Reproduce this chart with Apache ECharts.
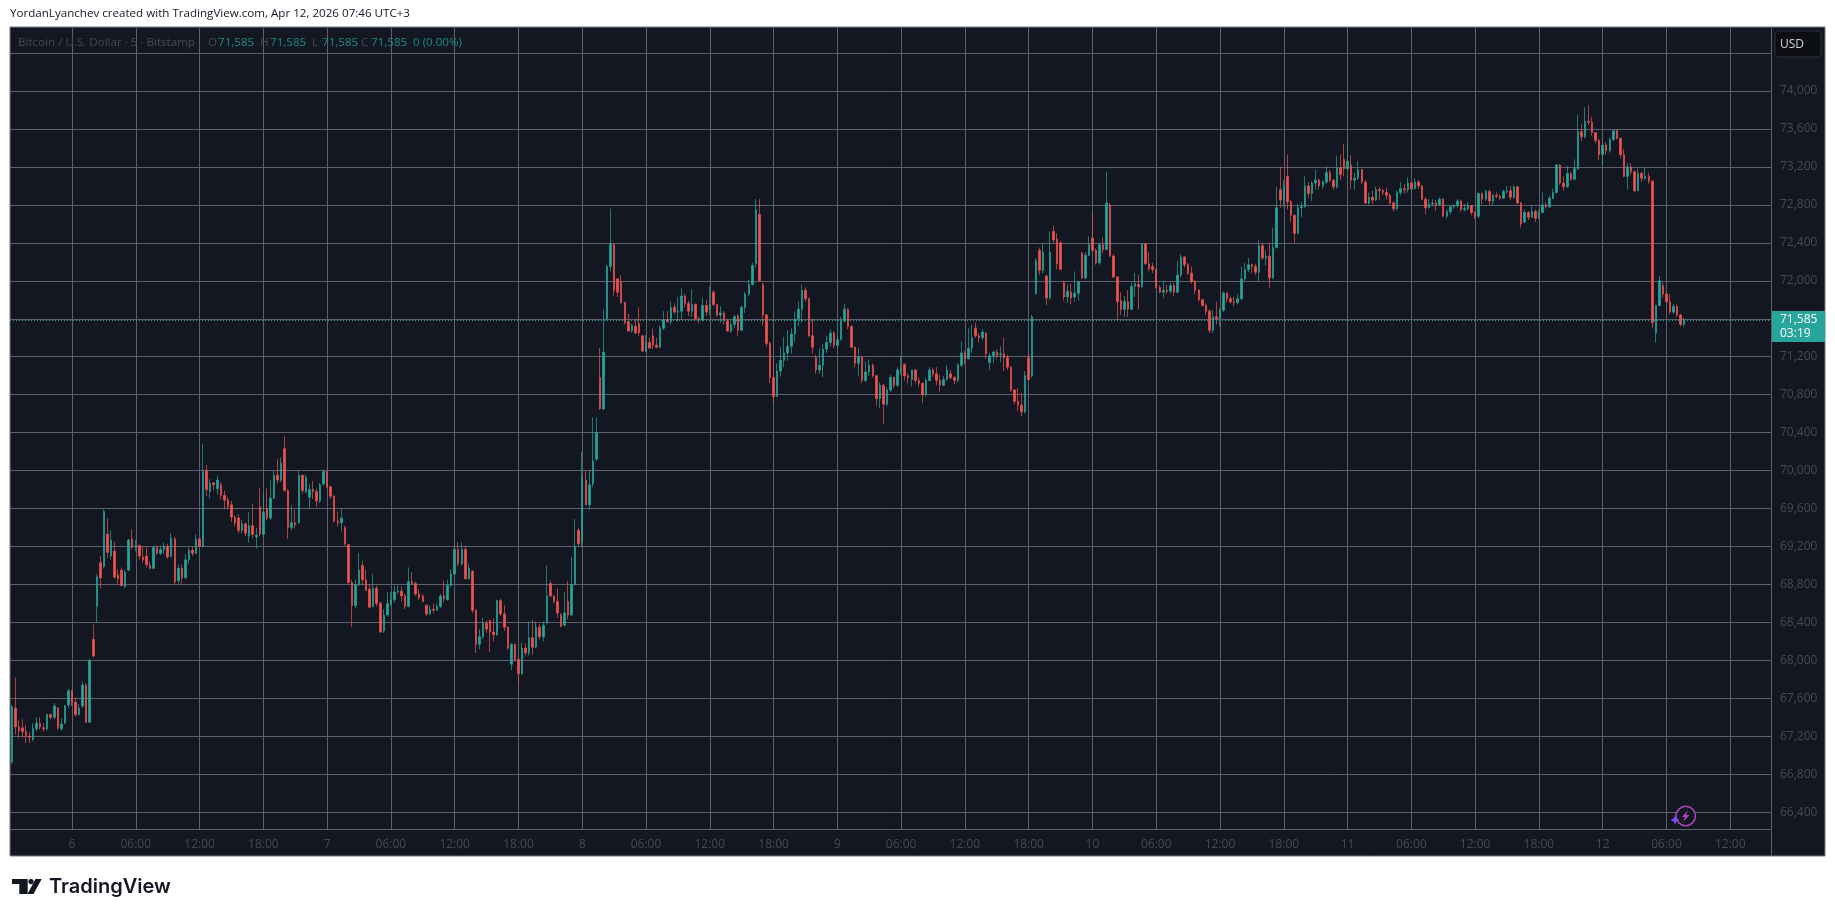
<!DOCTYPE html>
<html><head><meta charset="utf-8">
<style>html,body{margin:0;padding:0;background:#fff}#c{width:1835px;height:917px}</style>
<script src="https://cdn.jsdelivr.net/npm/echarts@6/dist/echarts.min.js"></script>
</head><body><div id="c"></div>
<script>
// 20-minute candles: [open, close, low, high]
const barsApr05=[[66930,67510,66910,67530],[67500,67300,67220,67820],[67300,67260,67180,67370],[67290,67250,67190,67380],[67250,67210,67130,67320],[67200,67190,67130,67240],[67170,67280,67150,67340],[67280,67340,67250,67400],[67340,67300,67270,67400],[67290,67280,67250,67340],[67280,67430,67260,67440],[67430,67400,67380,67440],[67400,67520,67380,67550],[67500,67290,67270,67510],[67280,67330,67260,67390],[67340,67520,67330,67530],[67530,67680,67500,67700]];
const barsApr06=[[67680,67560,67520,67690],[67560,67430,67410,67610],[67430,67500,67420,67540],[67520,67740,67500,67780],[67740,67350,67340,67760],[67350,68000,67340,68020],[68220,68050,68030,68380],[68570,68880,68400,68910],[69030,68870,68760,69100],[68990,69570,68970,69590],[69330,69140,69080,69500],[69100,69270,69060,69370],[69150,68880,68860,69250],[68900,68860,68810,68960],[68950,68790,68780,68980],[68780,68930,68760,68950],[68950,69270,68940,69280],[69280,69190,69170,69380],[69190,69210,69150,69270],[69210,69100,69060,69220],[69090,69060,69030,69200],[69100,69010,68980,69190],[69000,68970,68960,69040],[68970,69190,68960,69200],[69190,69130,69110,69200],[69130,69170,69110,69210],[69170,69200,69120,69240],[69200,69090,69070,69230],[69100,69290,69080,69340],[69280,68830,68800,69300],[68840,68970,68810,69010],[68970,68870,68810,69010],[68870,69060,68860,69120],[69060,69160,69020,69190],[69160,69130,69100,69200],[69130,69280,69120,69330],[69280,69200,69190,69290],[69200,69990,69190,70280],[70000,69800,69730,70060],[69780,69870,69710,69910],[69870,69850,69790,69880],[69810,69900,69750,69950],[69850,69740,69700,69880],[69740,69690,69590,69790],[69690,69620,69590,69720],[69640,69510,69460,69680],[69510,69450,69410,69530],[69500,69370,69340,69540],[69370,69440,69340,69480],[69440,69340,69310,69450],[69310,69420,69240,69560],[69420,69330,69290,69650],[69300,69320,69180,69400],[69620,69330,69310,69820],[69330,69560,69300,69760],[69600,69500,69480,69810],[69500,69710,69480,69900],[69710,69950,69700,70000],[69950,69900,69860,70120],[69900,70080,69880,70140],[70230,69790,69780,70360],[69790,69400,69280,69800],[69400,69450,69370,69640],[69450,69430,69390,69590],[69450,69950,69440,70000],[69950,69790,69760,69960],[69780,69930,69760,69960],[69720,69800,69600,69860],[69800,69780,69700,69890],[69780,69680,69620,69810],[69680,69850,69660,69870],[69860,69990,69840,70010]];
const barsApr07=[[69990,69830,69820,70000],[69830,69730,69700,69840],[69730,69470,69450,69740],[69470,69450,69410,69570],[69450,69500,69360,69600],[69400,69230,69210,69420],[69220,68820,68810,69230],[68820,68580,68350,68850],[68580,68800,68550,68850],[68800,68950,68780,69130],[69000,68850,68790,69050],[68850,68740,68730,68960],[68750,68560,68560,68800],[68570,68760,68560,68910],[68760,68600,68570,68790],[68600,68300,68290,68620],[68310,68480,68290,68540],[68480,68600,68460,68720],[68600,68640,68570,68720],[68640,68720,68610,68790],[68720,68730,68700,68790],[68730,68680,68620,68780],[68680,68570,68540,68700],[68570,68830,68560,68980],[68830,68810,68800,68930],[68810,68700,68680,68830],[68700,68660,68640,68750],[68680,68620,68610,68700],[68580,68490,68470,68590],[68490,68540,68480,68580],[68540,68530,68500,68600],[68530,68570,68520,68600],[68570,68680,68550,68700],[68680,68650,68610,68840],[68640,68790,68630,68850],[68790,68910,68770,68960],[68910,69170,68900,69220],[69170,69020,68990,69250],[69020,69170,69000,69240],[69170,68860,68860,69210],[68860,68970,68850,69020],[68940,68530,68500,68950],[68530,68170,68080,68540],[68170,68250,68120,68330],[68250,68390,68230,68450],[68390,68330,68290,68420],[68420,68300,68090,68430],[68300,68270,68200,68440],[68270,68630,68260,68640],[68630,68490,68470,68650],[68490,68350,68310,68580],[68350,68130,68110,68360],[67960,68170,67900,68180],[68170,68010,67990,68180],[68010,67860,67730,68030],[67860,68130,67850,68190],[68130,68080,68050,68180],[68080,68240,68050,68410],[68240,68140,68060,68430],[68140,68350,68130,68410],[68350,68250,68220,68380],[68250,68370,68200,68410],[68400,68680,68380,69000],[68810,68680,68670,68840],[68680,68620,68600,68680],[68620,68500,68450,68760],[68480,68360,68350,68500],[68370,68500,68360,68720],[68620,68480,68430,68840],[68480,68800,68470,69090],[68800,69200,68790,69490],[69370,69230,69200,69400]];
const barsApr08=[[69250,69930,69190,70200],[69900,69640,69630,70000],[69640,69850,69590,70000],[69860,70100,69830,70560],[70120,70400,70100,70560],[70980,70650,70640,71290],[70650,71250,70640,71700],[71600,72150,71580,72170],[72150,72390,72100,72760],[72380,71900,71840,72400],[72020,71880,71830,72030],[71990,71770,71760,72060],[71770,71560,71540,71780],[71570,71470,71460,71650],[71470,71530,71450,71550],[71520,71450,71440,71600],[71550,71450,71420,71720],[71420,71260,71250,71430],[71260,71350,71250,71430],[71350,71290,71290,71400],[71420,71320,71280,71500],[71320,71300,71290,71400],[71300,71500,71290,71530],[71500,71590,71480,71680],[71590,71570,71560,71680],[71570,71720,71540,71780],[71720,71670,71650,71760],[71670,71680,71570,71830],[71680,71840,71600,71920],[71840,71760,71720,71860],[71760,71680,71630,71790],[71680,71750,71620,71910],[71750,71600,71590,71760],[71600,71590,71550,71620],[71590,71740,71570,71820],[71740,71670,71630,71800],[71700,71750,71640,71940],[71880,71750,71730,71900],[71750,71640,71620,71760],[71640,71660,71560,71730],[71660,71580,71540,71680],[71580,71470,71460,71600],[71470,71540,71450,71560],[71540,71620,71500,71640],[71630,71480,71420,71650],[71480,71720,71470,71740],[71720,71860,71660,71880],[71860,71960,71840,72010],[71960,72160,71950,72190],[72180,72750,72140,72860],[72700,72000,71990,72860],[71960,71640,71530,71980],[71640,71340,71310,71650],[71340,70980,70920,71360],[70980,70780,70710,71190],[70780,71050,70780,71130],[71050,71160,70990,71300],[71160,71240,71090,71410],[71240,71310,71160,71480],[71310,71440,71230,71500],[71440,71600,71360,71680],[71600,71700,71520,71780],[71700,71900,71560,71960],[71900,71810,71780,71930],[71810,71420,71410,71820],[71420,71300,71230,71600],[71190,71060,71020,71220],[71060,71110,71020,71290],[71110,71280,70980,71330],[71280,71350,71240,71420],[71350,71450,71310,71490],[71450,71320,71290,71470]];
const barsApr09=[[71320,71380,71290,71420],[71380,71580,71370,71620],[71580,71700,71560,71760],[71700,71520,71490,71710],[71520,71300,71290,71530],[71300,71130,71090,71310],[71130,71200,71000,71290],[71200,70950,70920,71210],[70950,71040,70930,71150],[71040,71110,71000,71170],[71110,71000,70980,71130],[71000,70760,70680,71010],[70760,70900,70660,70930],[70900,70700,70490,70910],[70700,70850,70680,70880],[70850,70980,70830,71010],[70980,70900,70870,70990],[70900,71060,70880,71090],[71060,71060,71010,71210],[71120,71000,70950,71130],[71000,70980,70920,71020],[70960,71060,70890,71060],[71060,70950,70920,71060],[70950,70920,70880,70980],[70920,70800,70710,70930],[70800,70950,70780,70980],[70950,71060,70940,71090],[71060,71020,70990,71090],[71020,70950,70900,71090],[70950,70900,70830,71010],[70900,70960,70890,71000],[70960,71060,70950,71110],[71020,70980,70960,71060],[70980,70950,70910,71000],[70950,71110,70930,71130],[71110,71240,71090,71360],[71240,71180,71120,71260],[71180,71290,71170,71500],[71290,71400,71240,71540],[71500,71420,71400,71560],[71420,71400,71350,71450],[71400,71460,71370,71490],[71450,71230,71180,71460],[71140,71210,71060,71240],[71210,71250,71130,71260],[71250,71210,71180,71280],[71220,71230,71140,71310],[71230,71190,71050,71400],[71190,71090,71060,71220],[71090,70850,70830,71100],[70850,70730,70700,70860],[70730,70690,70630,70870],[70690,70620,70570,70820],[70620,71000,70600,71050],[71190,70960,70950,71230],[71000,71620,70980,71640],[71870,72210,71850,72240],[72320,72110,72060,72350],[72110,72300,72080,72400],[72050,71820,71740,72060],[71820,72300,71800,72520],[72520,72430,72400,72580],[72440,72180,72120,72500],[72400,72120,72110,72420],[71980,71830,71790,72000],[71830,71890,71770,71960],[71880,71820,71750,71970],[71830,71870,71780,72100],[71870,71990,71790,72000],[72290,72030,72020,72310],[72030,72270,72020,72300],[72270,72380,72260,72470]];
const barsApr10=[[72450,72320,72310,72720],[72320,72190,72170,72340],[72190,72380,72170,72400],[72380,72330,72290,72460],[72330,72820,72320,73150],[72800,72260,72250,72820],[72260,72040,72030,72280],[72040,71780,71590,72050],[71790,71700,71640,71880],[71700,71780,71620,71840],[71780,71700,71620,71900],[71700,71940,71690,71980],[71940,71970,71830,72080],[71960,71940,71700,72060],[71940,72390,71920,72390],[72390,72180,72170,72380],[72180,72130,72100,72300],[72150,72120,72080,72190],[72120,71930,71920,72130],[71930,71880,71870,71950],[71880,71900,71820,72000],[71900,71890,71860,71960],[71890,71950,71860,71980],[71950,71880,71840,71980],[71880,72060,71870,72210],[72060,72250,72040,72280],[72250,72170,72140,72260],[72170,72080,72060,72190],[72080,71990,71970,72150],[71990,71900,71860,72010],[71900,71800,71780,71910],[71800,71740,71730,71810],[71740,71680,71640,71760],[71680,71480,71450,71700],[71480,71620,71450,71690],[71620,71600,71540,71780],[71600,71690,71520,71710],[71690,71870,71670,71890],[71870,71810,71770,71880],[71810,71780,71760,71830],[71780,71770,71730,71830],[71770,71810,71750,71860],[71810,72020,71800,72150],[72020,72120,72000,72190],[72120,72170,72090,72240],[72170,72150,72080,72180],[72150,72090,72060,72180],[72090,72370,71990,72430],[72370,72240,72220,72400],[72240,72260,72160,72320],[72260,72030,71920,72400],[72030,72350,72020,72560],[72350,72770,72340,72990],[72960,72850,72770,73200],[72850,72990,72780,73060],[73100,72830,72750,73330],[72830,72690,72620,72850],[72690,72500,72400,72700],[72500,72770,72490,72810],[72770,72780,72670,72830],[72780,73000,72770,73100],[73000,72920,72870,73040],[72920,73030,72840,73050],[73030,73060,72960,73170],[73060,73000,72960,73080],[73000,73040,72970,73060],[73040,73140,73020,73210],[73140,73060,73040,73170],[73060,72990,72960,73070],[72990,73190,72970,73320],[73190,73120,73060,73330],[73280,73180,73100,73440]];
const barsApr11=[[73180,73260,73160,73460],[73220,73060,72970,73320],[73060,73080,72960,73140],[73080,73170,73060,73260],[73170,73040,73020,73180],[73040,72820,72810,73060],[72820,72880,72800,72930],[72880,72850,72810,72950],[72850,72960,72840,72990],[72960,72950,72850,72990],[72950,72930,72900,72970],[72930,72900,72860,72980],[72900,72820,72800,72920],[72820,72760,72730,72840],[72760,72930,72740,72950],[72930,72970,72900,73040],[72970,72960,72920,73020],[72960,73030,72930,73090],[73030,72970,72950,73040],[72970,73040,72960,73080],[73040,73000,72970,73060],[73000,72860,72850,73010],[72860,72770,72700,72880],[72770,72810,72760,72860],[72810,72820,72790,72860],[72820,72800,72740,72850],[72800,72860,72790,72880],[72860,72680,72670,72870],[72680,72730,72650,72750],[72730,72780,72700,72800],[72780,72790,72760,72810],[72790,72840,72770,72860],[72840,72750,72730,72860],[72750,72760,72730,72810],[72760,72790,72740,72830],[72790,72720,72690,72800],[72720,72680,72650,72730],[72680,72920,72660,72930],[72920,72860,72810,72930],[72860,72940,72840,72960],[72940,72840,72800,72960],[72840,72900,72790,72920],[72900,72890,72870,72930],[72890,72870,72850,72910],[72870,72940,72860,72960],[72940,72950,72920,73000],[72950,72880,72850,73000],[72880,72990,72860,73010],[72990,72820,72810,73000],[72820,72600,72560,72830],[72620,72720,72610,72750],[72720,72670,72640,72730],[72670,72730,72660,72790],[72730,72660,72620,72750],[72660,72720,72650,72750],[72720,72800,72710,72930],[72800,72780,72760,72830],[72780,72870,72770,72900],[72870,72930,72860,72970],[72930,73220,72920,73230],[73220,73030,73010,73230],[73030,72990,72950,73100],[72990,73130,72980,73210],[73130,73070,73050,73150],[73070,73180,73060,73280],[73180,73570,73170,73750],[73570,73520,73470,73650],[73520,73680,73500,73830],[73680,73670,73640,73850],[73670,73560,73530,73730],[73560,73480,73450,73570],[73480,73330,73270,73490]];
const barsApr12=[[73330,73430,73220,73470],[73430,73370,73330,73460],[73370,73490,73350,73510],[73490,73580,73470,73590],[73580,73500,73490,73600],[73500,73330,73290,73510],[73330,73100,73090,73390],[73100,73200,72960,73240],[73200,73150,73120,73240],[73150,72950,72930,73160],[72950,73130,72940,73180],[73130,73080,73040,73150],[73080,73100,73060,73190],[73100,73050,73020,73140],[73050,71560,71500,73060],[71450,71740,71350,71750],[71740,72000,71730,72050],[71950,71860,71820,71980],[71860,71780,71770,71880],[71780,71670,71650,71860],[71670,71730,71650,71760],[71730,71640,71620,71750],[71640,71540,71520,71650],[71540,71585,71520,71610]];
const timeTicks=['6','06:00','12:00','18:00','7','06:00','12:00','18:00','8','06:00','12:00','18:00','9','06:00','12:00','18:00','10','06:00','12:00','18:00','11','06:00','12:00','18:00','12','06:00','12:00'];
const priceTicks=[66400,66800,67200,67600,68000,68400,68800,69200,69600,70000,70400,70800,71200,71600,72000,72400,72800,73200,73600,74000,74400];
const priceLabels=[66400,66800,67200,67600,68000,68400,68800,69200,69600,70000,70400,70800,71200,71600,72000,72400,72800,73200,73600,74000];
const lastPrice=71585;
const ohlcLegend=[['O',208,'71,585'],['H',260,'71,585'],['L',312,'71,585'],['C',361,'71,585']];

const candles=[].concat(barsApr05,barsApr06,barsApr07,barsApr08,barsApr09,barsApr10,barsApr11,barsApr12);
const slotCount=497, firstTickSlot=17, slotsPerTick=18;
const categories=[];
for(let i=0;i<slotCount;i++){
  const k=(i-firstTickSlot)/slotsPerTick;
  categories.push(Number.isInteger(k)&&timeTicks[k]?timeTicks[k]:'');
}
const isTick=(i,v)=>v!=='';
const FONT='"Open Sans","Noto Sans",sans-serif';
const UP='#26a69a',DOWN='#ef5350',GRID='#5f606b',DIM='#474a54',BG='#131722',FRAME='#787b86';
const SMALL='11.6px '+FONT;
const legendText=[{type:'text',left:18,top:37,z:20,style:{text:'Bitcoin / U.S. Dollar · 5 · Bitstamp',fill:DIM,font:SMALL}}];
ohlcLegend.forEach(r=>{
  legendText.push({type:'text',left:r[1],top:37,z:20,style:{text:r[0],fill:DIM,font:SMALL}});
  legendText.push({type:'text',left:r[1]+10,top:37,z:20,style:{text:r[2],fill:'#1f8a80',font:SMALL}});
});
legendText.push({type:'text',left:413,top:37,z:20,style:{text:'0 (0.00%)',fill:'#1f8a80',font:SMALL}});

const chart=echarts.init(document.getElementById('c'),null,{renderer:'canvas'});
chart.setOption({
  animation:false,backgroundColor:'#ffffff',
  grid:{left:10,right:64,top:27,bottom:88,containLabel:false,show:false},
  xAxis:{type:'category',data:categories,boundaryGap:true,
    axisLine:{show:true,lineStyle:{color:GRID,width:1}},
    axisTick:{show:false,alignWithLabel:true,interval:isTick},
    axisLabel:{interval:isTick,color:DIM,fontFamily:FONT,fontSize:12,margin:10},
    splitLine:{show:true,alignWithLabel:true,interval:isTick,lineStyle:{color:GRID,width:1}}},
  yAxis:{type:'value',position:'right',min:66224,max:74674,scale:true,
    axisLine:{show:true,onZero:false,lineStyle:{color:GRID,width:1}},
    axisTick:{show:false,customValues:priceTicks},
    axisLabel:{customValues:priceLabels,color:DIM,fontFamily:FONT,fontSize:12,margin:9,
      formatter:v=>v.toLocaleString('en-US')},
    splitLine:{show:true,lineStyle:{color:GRID,width:1}}},
  series:[{type:'candlestick',data:candles,barWidth:2,large:false,
    itemStyle:{color:UP,color0:DOWN,borderColor:UP,borderColor0:DOWN,borderWidth:0.7},
    markLine:{silent:true,symbol:'none',animation:false,label:{show:false},
      lineStyle:{color:UP,type:[1,2],width:1},data:[{yAxis:lastPrice}]}}],
  graphic:[
    {type:'rect',z:-1,shape:{x:10,y:27,width:1815,height:829},style:{fill:BG,stroke:FRAME,lineWidth:1}},
    {type:'line',z:-1,shape:{x1:1771.5,y1:829,x2:1771.5,y2:856},style:{stroke:GRID,lineWidth:1}},
    {type:'text',left:10,top:8,z:20,style:{text:'YordanLyanchev created with TradingView.com, Apr 12, 2026 07:46 UTC+3',fill:'#131722',font:SMALL}},
    ...legendText,
    {type:'rect',z:20,shape:{x:1775,y:31,width:46,height:26,r:4},style:{fill:'#0c0e13',stroke:'#2a2e39',lineWidth:1}},
    {type:'text',left:1780,top:39,z:21,style:{text:'USD',fill:'#d1d4dc',font:'12px '+FONT}},
    {type:'rect',z:20,shape:{x:1772,y:311,width:53,height:31},style:{fill:'#26a69a'}},
    {type:'text',left:1780,top:314,z:21,style:{text:'71,585',fill:'#ffffff',font:'12px '+FONT}},
    {type:'text',left:1780,top:328,z:21,style:{text:'03:19',fill:'#ffffff',font:'12px '+FONT}},
    {type:'circle',z:20,shape:{cx:1685.7,cy:816,r:9.7},style:{fill:BG,stroke:'#ab47bc',lineWidth:1.5}},
    {type:'polygon',z:21,shape:{points:[[1688,810],[1682,817],[1685,817],[1683,822],[1689.5,815],[1686,815]]},style:{fill:'#ab47bc'}},
    {type:'polygon',z:22,shape:{points:[[1675,815.5],[1676.5,818.5],[1679.5,820],[1676.5,821.5],[1675,824.5],[1673.5,821.5],[1670.5,820],[1673.5,818.5]]},style:{fill:'#7c4dff'}},
    {type:'polygon',z:20,shape:{points:[[12,879],[27.7,879],[27.7,894],[19.3,894],[19.3,884],[12,884]]},style:{fill:'#131722'}},
    {type:'circle',z:20,shape:{cx:31,cy:881.6,r:2.6},style:{fill:'#131722'}},
    {type:'polygon',z:20,shape:{points:[[35.5,879],[41.7,879],[33.5,894],[27.5,894]]},style:{fill:'#131722'}},
    {type:'text',left:49,top:877,z:20,style:{text:'TradingView',fill:'#131722',font:'600 20px Inter,"Open Sans",sans-serif'}}
  ]
});
</script></body></html>
